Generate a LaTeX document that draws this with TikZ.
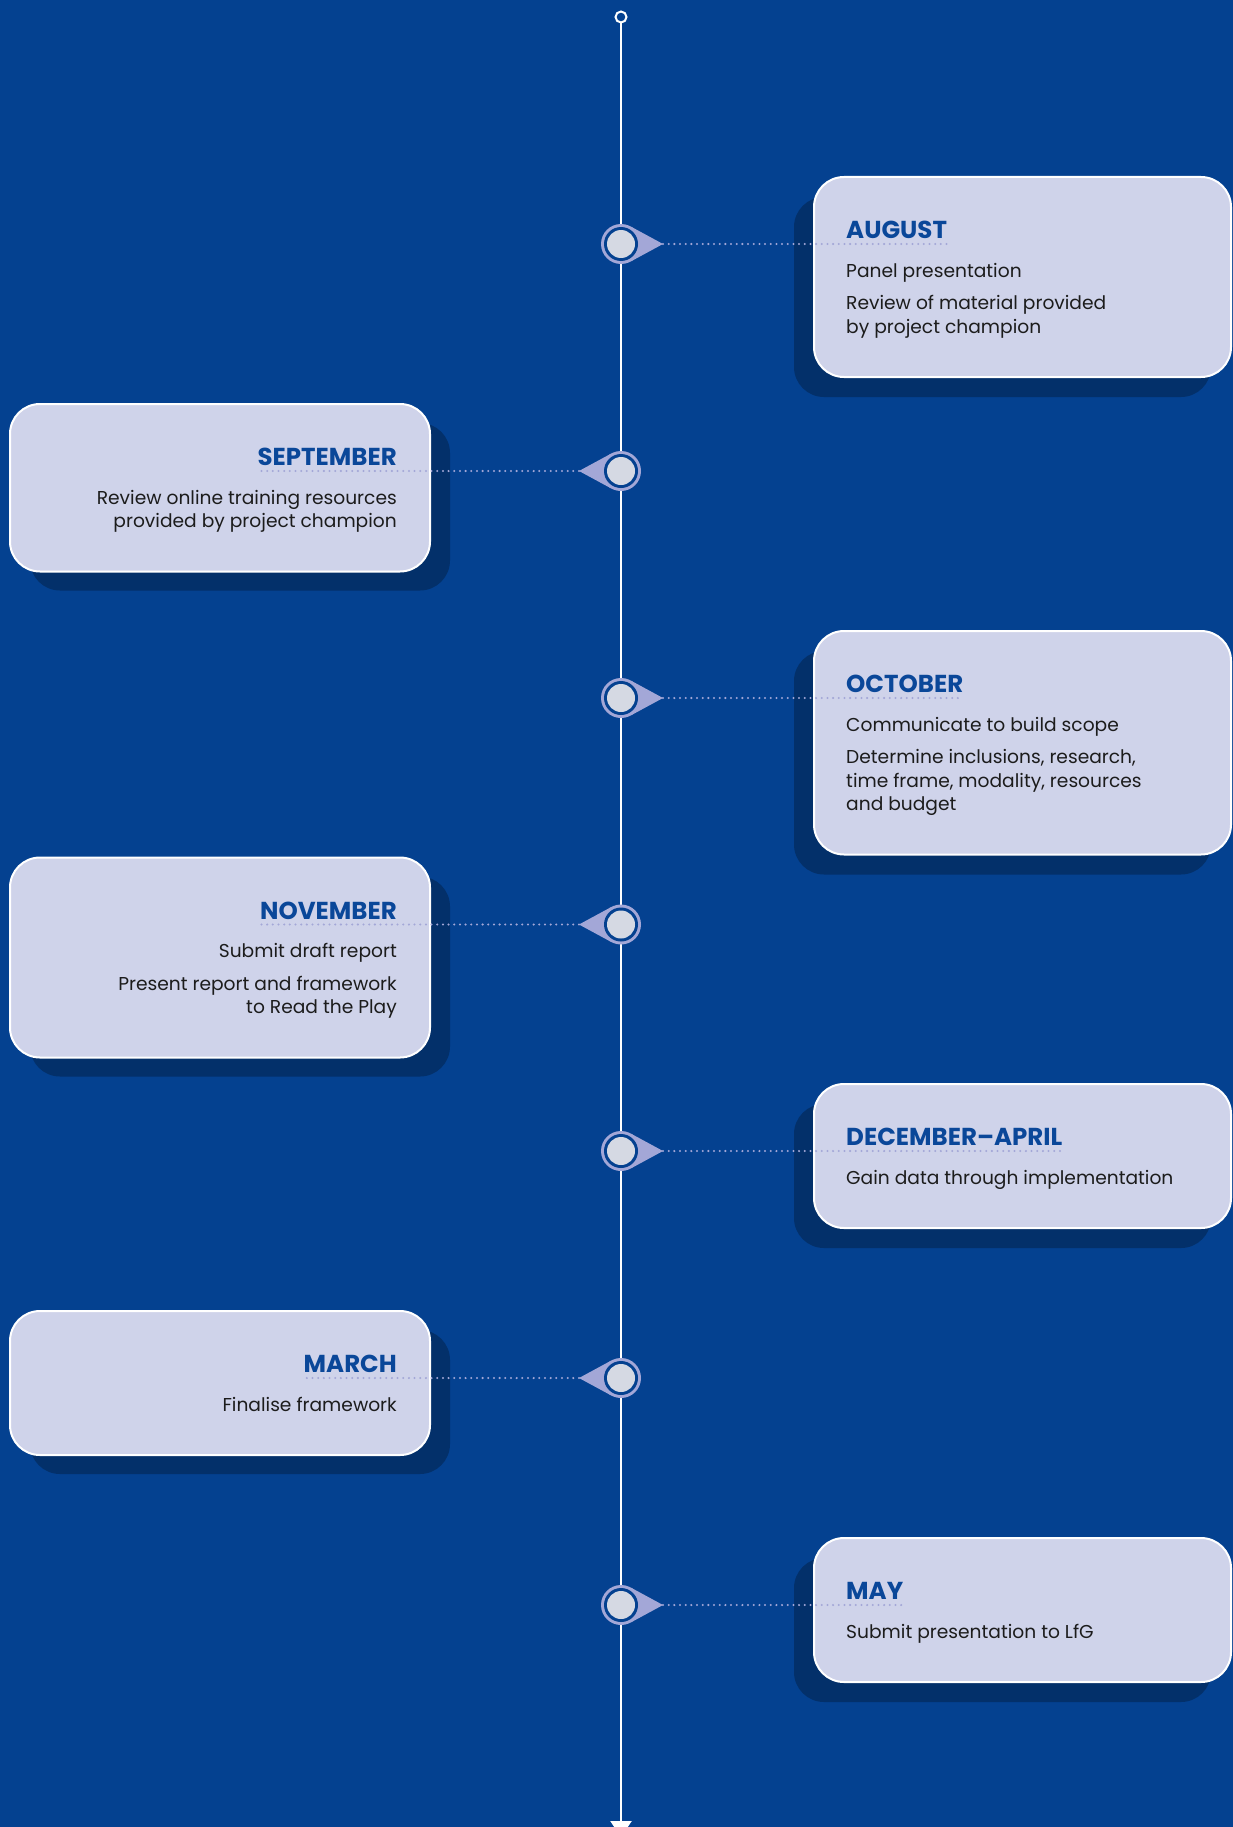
\documentclass[tikz,border=0pt]{standalone}
\usepackage{fontspec}
\setmainfont{Poppins}
\usetikzlibrary{arrows.meta,shadows,calc}
\definecolor{bg}{HTML}{044190}
\definecolor{shadowc}{HTML}{03306A}
\definecolor{cardfill}{HTML}{CFD3EA}
\definecolor{headc}{HTML}{0A4799}
\definecolor{markc}{HTML}{A3A7D7}
\definecolor{innerc}{HTML}{D5D9E3}
\definecolor{bodyc}{HTML}{1C1C1C}
\newcommand\tlmark[4]{%
  \coordinate (#1) at (621,#2);
  \coordinate (#1tip) at ($(#1)+(#3,0)$);
  \fill[markc] (#1) circle[radius=20pt];
  \fill[markc] (#1tip) -- ($(#1)+(#4,-17.6)$) -- ($(#1)+(#4,17.6)$) -- cycle;
  \fill[bg] (#1) circle[radius=17pt];
  \fill[innerc] (#1) circle[radius=14pt];
}
\begin{document}
\begin{tikzpicture}[x=1pt,y=-1pt,
  card/.style={rectangle, rounded corners=30pt, fill=cardfill, draw=white, line width=2pt, inner sep=0pt},
  rcard/.style={card, minimum width=417pt, general shadow={fill=shadowc, draw=none, shadow xshift=-20pt, shadow yshift=-20pt}},
  lcard/.style={card, minimum width=420pt, general shadow={fill=shadowc, draw=none, shadow xshift=20pt, shadow yshift=-19pt}},
  heading/.style={font=\fontsize{24.5}{28}\selectfont\bfseries, text=headc, inner sep=0pt},
  body/.style={font=\fontsize{18.65}{22}\selectfont, text=bodyc, inner sep=0pt},
  rtext/.style={anchor=base west},
  ltext/.style={anchor=base east},
  dotline/.style={draw=markc, line width=2.3pt, line cap=round, dash pattern=on 0pt off 5.67pt},
  mainline/.style={draw=white, line width=2.5pt}]
\useasboundingbox (0,0) rectangle (1233,1827);
\fill[bg] (0,0) rectangle (1233,1827);

% cards
\node[rcard, minimum height=200pt] (c1) at (1022.5,277) {};
\node[lcard, minimum height=167.5pt] (c2) at (220,487.75) {};
\node[rcard, minimum height=223.5pt] (c3) at (1022.5,742.75) {};
\node[lcard, minimum height=200pt] (c4) at (220,957.5) {};
\node[rcard, minimum height=144pt] (c5) at (1022.5,1156) {};
\node[lcard, minimum height=144pt] (c6) at (220,1383) {};
\node[rcard, minimum height=144pt] (c7) at (1022.5,1610) {};

% main timeline
\node[circle, draw=white, fill=bg, line width=2pt, minimum size=11pt, inner sep=0pt] (top) at (621,17) {};
\coordinate (bot) at (621,1837);
\draw[mainline, -{Triangle[width=21pt,length=16pt]}] (top.south) -- (bot);

% markers
\tlmark{m1}{244}{42}{9.5}
\tlmark{m2}{471}{-42}{-9.5}
\tlmark{m3}{698}{42}{9.5}
\tlmark{m4}{924.5}{-42}{-9.5}
\tlmark{m5}{1151}{42}{9.5}
\tlmark{m6}{1378}{-42}{-9.5}
\tlmark{m7}{1605}{42}{9.5}

% headings (placement)
\path node[heading, anchor=base west, opacity=0] (h1) at (846,238.5) {AUGUST}
      node[heading, anchor=base east, opacity=0] (h2) at (397,465.5) {SEPTEMBER}
      node[heading, anchor=base west, opacity=0] (h3) at (846,692.5) {OCTOBER}
      node[heading, anchor=base east, opacity=0] (h4) at (397,919) {NOVEMBER}
      node[heading, anchor=base west, opacity=0] (h5) at (846,1145.5) {DECEMBER–APRIL}
      node[heading, anchor=base east, opacity=0] (h6) at (397,1372.5) {MARCH}
      node[heading, anchor=base west, opacity=0] (h7) at (846,1599.5) {MAY};

% dotted connectors
\draw[dotline] (m1tip) -- (m1tip -| h1.east);
\draw[dotline] (m2tip) -- (m2tip -| h2.west);
\draw[dotline] (m3tip) -- (m3tip -| h3.east);
\draw[dotline] (m4tip) -- (m4tip -| h4.west);
\draw[dotline] (m5tip) -- (m5tip -| h5.east);
\draw[dotline] (m6tip) -- (m6tip -| h6.west);
\draw[dotline] (m7tip) -- (m7tip -| h7.east);

% headings on top of dots
\node[heading, anchor=base west] (g1) at (h1.base west) {AUGUST};
\node[heading, anchor=base east] (g2) at (h2.base east) {SEPTEMBER};
\node[heading, anchor=base west] (g3) at (h3.base west) {OCTOBER};
\node[heading, anchor=base east] (g4) at (h4.base east) {NOVEMBER};
\node[heading, anchor=base west] (g5) at (h5.base west) {DECEMBER–APRIL};
\node[heading, anchor=base east] (g6) at (h6.base east) {MARCH};
\node[heading, anchor=base west] (g7) at (h7.base west) {MAY};

% body texts
\node[body, rtext] (t1a) at (846,277) {Panel presentation};
\node[body, rtext] (t1b) at (846,309.5) {Review of material provided};
\node[body, rtext] (t1c) at (846,333) {by project champion};
\node[body, ltext] (t2a) at (397,504) {Review online training resources};
\node[body, ltext] (t2b) at (397,527.5) {provided by project champion};
\node[body, rtext] (t3a) at (846,731) {Communicate to build scope};
\node[body, rtext] (t3b) at (846,763.5) {Determine inclusions, research,};
\node[body, rtext] (t3c) at (846,787) {time frame, modality, resources};
\node[body, rtext] (t3d) at (846,810.5) {and budget};
\node[body, ltext] (t4a) at (397,957.5) {Submit draft report};
\node[body, ltext] (t4b) at (397,990) {Present report and framework};
\node[body, ltext] (t4c) at (397,1013.5) {to Read the Play};
\node[body, rtext] (t5a) at (846,1184) {Gain data through implementation};
\node[body, ltext] (t6a) at (397,1411) {Finalise framework};
\node[body, rtext] (t7a) at (846,1638) {Submit presentation to LfG};
\end{tikzpicture}
\end{document}
